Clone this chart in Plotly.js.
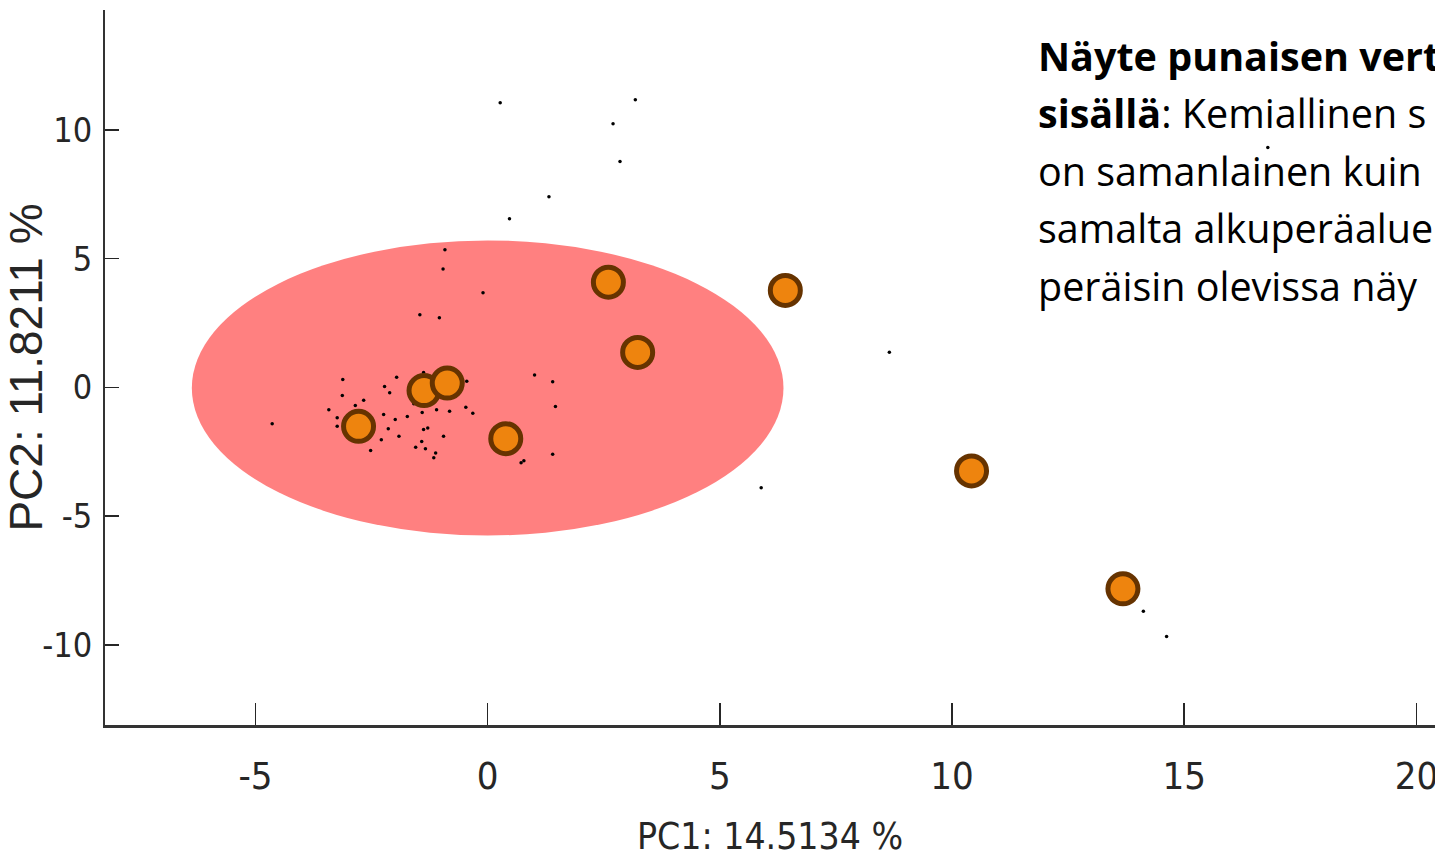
<!DOCTYPE html>
<html>
<head>
<meta charset="utf-8">
<script src="https://cdn.plot.ly/plotly-3.0.1.min.js"></script>
<style>
html,body{margin:0;padding:0;background:#fff;overflow:hidden;}
#chart{width:1435px;height:860px;}
</style>
</head>
<body>
<div id="chart"></div>
<script>
// Small reference samples (black dots)
const refX = [0.27, 3.18, 2.70, 2.85, 1.32, 0.47, -0.92, -0.96, -0.10, -1.46, -1.04,
  8.65, 5.89, 14.12, 14.62, 16.80,
  -4.64, -3.12, -3.13, -3.42, -3.24, -3.24, -2.85, -2.67, -2.52, -2.22, -2.11, -1.96,
  -2.24, -1.99, -2.14, -2.29, -1.91, -1.73, -1.38, -1.41, -1.10, -0.82, -0.45, -0.47,
  -0.32, -1.38, -1.29, -1.42, -1.55, -1.34, -1.12, -1.16, -0.95, -1.59,
  1.01, 1.40, 1.46, 1.40, 0.72, 0.78];
const refY = [11.06, 11.17, 10.24, 8.78, 7.41, 6.55, 5.35, 4.60, 3.68, 2.82, 2.71,
  1.37, -3.90, -8.69, -9.67, 9.32,
  -1.41, 0.31, -0.31, -0.87, -1.18, -1.51, -0.70, -0.50, -2.45, 0.04, -0.21, 0.40,
  -1.05, -1.24, -1.60, -2.03, -1.90, -1.13, 0.58, -0.97, -0.87, -0.92, 0.24, -0.77,
  -1.00, -1.63, -1.57, -2.10, -2.32, -2.38, -2.55, -2.73, -1.90, -0.63,
  0.48, 0.22, -0.74, -2.59, -2.92, -2.85];

// Samples under study (orange circles)
const sampleX = [-2.78, -1.37, -0.87, 0.39, 2.60, 3.23, 6.41, 10.42, 13.68];
const sampleY = [-1.51, -0.12, 0.17, -1.99, 4.09, 1.36, 3.77, -3.24, -7.82];

// Reference region (ellipse): centre and semi-axes in PC units
const ellipseCenter = [0.0, -0.02];
const ellipseRadii = [6.37, 5.73];

// Axis ticks and titles
const xTicks = [-5, 0, 5, 10, 15, 20];
const yTicks = [-10, -5, 0, 5, 10];
const xTitle = 'PC1: 14.5134 %';
const yTitle = 'PC2: 11.8211 %';

// Annotation lines (as much as the cropped reference shows)
const noteLines = [
  '<b>Näyte punaisen vert</b>',
  '<b>sisällä</b>: Kemiallinen s',
  'on samanlainen kuin',
  'samalta alkuperäalue',
  'peräisin olevissa näy'
];

const tickColor = '#262626';
const narrow = '"DejaVu Sans Condensed", "Liberation Sans Narrow", "Arial Narrow", "Liberation Sans", Arial, sans-serif';

const traces = [
  {
    type: 'scatter', mode: 'markers', x: refX, y: refY,
    marker: {size: 3.5, color: '#000000'},
    hoverinfo: 'skip', showlegend: false
  },
  {
    type: 'scatter', mode: 'markers', x: sampleX, y: sampleY,
    marker: {size: 30, color: '#EE840E', line: {color: '#663300', width: 5}},
    hoverinfo: 'skip', showlegend: false
  }
];

const annotations = noteLines.map((t, i) => ({
  xref: 'paper', yref: 'paper',
  x: (1036 - 105) / (1435 - 105), xanchor: 'left',
  y: 1 - ((56 + 57.5 * i) - 10) / (725 - 10), yanchor: 'middle',
  text: t, showarrow: false, align: 'left',
  font: {family: '"Open Sans", "Noto Sans", sans-serif', size: 39.5, color: '#000000'}
}));

const layout = {
  width: 1435, height: 860,
  margin: {l: 105, r: 0, t: 10, b: 135},
  paper_bgcolor: '#ffffff', plot_bgcolor: '#ffffff',
  showlegend: false,
  xaxis: {
    range: [-8.24, 20.40],
    tickvals: xTicks, ticktext: xTicks.map(String),
    ticks: 'inside', ticklen: 22, tickwidth: 1.5, tickcolor: tickColor,
    showline: true, linewidth: 2.5, linecolor: '#333333',
    showgrid: false, zeroline: false, mirror: false,
    ticklabelstandoff: 16, ticklabeloverflow: 'allow',
    tickfont: {family: narrow, size: 38, color: tickColor},
    title: {text: xTitle, standoff: 26, font: {family: narrow, size: 37, color: tickColor}},
    automargin: false, fixedrange: true
  },
  yaxis: {
    range: [-13.11, 14.66],
    tickvals: yTicks, ticktext: yTicks.map(String),
    ticks: 'inside', ticklen: 14, tickwidth: 1.5, tickcolor: tickColor,
    showline: true, linewidth: 2, linecolor: '#333333',
    showgrid: false, zeroline: false, mirror: false,
    ticklabelstandoff: 4, ticklabeloverflow: 'allow',
    tickfont: {family: narrow, size: 34, color: tickColor},
    title: {text: yTitle, standoff: 10, font: {family: '"Liberation Sans", Arial, sans-serif', size: 46, color: tickColor}},
    automargin: false, fixedrange: true
  },
  shapes: [{
    type: 'circle', xref: 'x', yref: 'y', layer: 'below',
    x0: ellipseCenter[0] - ellipseRadii[0], x1: ellipseCenter[0] + ellipseRadii[0],
    y0: ellipseCenter[1] - ellipseRadii[1], y1: ellipseCenter[1] + ellipseRadii[1],
    fillcolor: '#FF8080', line: {width: 0}
  }],
  annotations: annotations
};

Plotly.newPlot('chart', traces, layout, {staticPlot: true, displayModeBar: false});
</script>
</body>
</html>
